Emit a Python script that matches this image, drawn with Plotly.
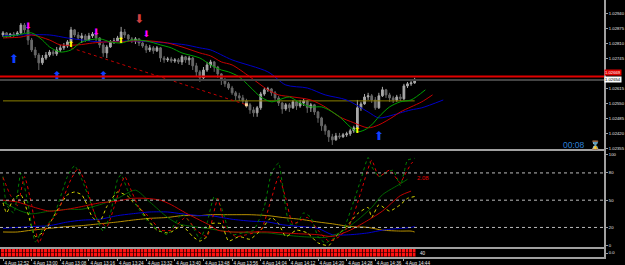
import plotly.graph_objects as go

# ---------------- data ----------------
bars = list(range(116))
opens = [1.02849,1.02858,1.02845,1.02853,1.02849,1.02858,1.02892,1.02871,1.02827,1.02784,1.02762,1.02728,1.02749,1.02762,1.02775,1.02767,1.02784,1.02793,1.02801,1.02819,
         1.02871,1.02849,1.02836,1.02845,1.02827,1.02845,1.02853,1.02836,1.02806,1.02771,1.02797,1.02819,1.02823,1.02836,1.02862,1.02849,1.02832,1.02823,1.02832,1.02814,
         1.02801,1.02784,1.02793,1.02780,1.02793,1.02749,1.02741,1.02745,1.02736,1.02741,1.02732,1.02754,1.02741,1.02749,1.02715,1.02689,1.02663,1.02697,1.02719,1.02732,
         1.02710,1.02680,1.02654,1.02637,1.02619,1.02598,1.02585,1.02576,1.02563,1.02546,1.02524,1.02511,1.02533,1.02593,1.02611,1.02615,1.02598,1.02576,1.02554,1.02528,
         1.02546,1.02533,1.02559,1.02541,1.02554,1.02563,1.02533,1.02546,1.02515,1.02489,1.02455,1.02433,1.02407,1.02394,1.02411,1.02407,1.02416,1.02420,1.02433,1.02446,
         1.02533,1.02550,1.02580,1.02585,1.02567,1.02533,1.02585,1.02611,1.02589,1.02576,1.02567,1.02580,1.02572,1.02628,1.02637,1.02641]
closes = [1.02858,1.02845,1.02853,1.02849,1.02858,1.02892,1.02871,1.02827,1.02784,1.02762,1.02728,1.02749,1.02762,1.02775,1.02767,1.02784,1.02793,1.02801,1.02819,1.02871,
          1.02849,1.02836,1.02845,1.02827,1.02845,1.02853,1.02836,1.02806,1.02771,1.02797,1.02819,1.02823,1.02836,1.02862,1.02849,1.02832,1.02823,1.02832,1.02814,1.02801,
          1.02784,1.02793,1.02780,1.02793,1.02749,1.02741,1.02745,1.02736,1.02741,1.02732,1.02754,1.02741,1.02749,1.02715,1.02689,1.02663,1.02697,1.02719,1.02732,1.02710,
          1.02680,1.02654,1.02637,1.02619,1.02598,1.02585,1.02576,1.02563,1.02546,1.02524,1.02511,1.02533,1.02593,1.02611,1.02615,1.02598,1.02576,1.02554,1.02528,1.02546,
          1.02533,1.02559,1.02541,1.02554,1.02563,1.02533,1.02546,1.02515,1.02489,1.02455,1.02433,1.02407,1.02394,1.02411,1.02407,1.02416,1.02420,1.02433,1.02446,1.02533,
          1.02550,1.02580,1.02585,1.02567,1.02533,1.02585,1.02611,1.02589,1.02576,1.02567,1.02580,1.02572,1.02628,1.02637,1.02641,1.02654]
highs = [1.02866,1.02862,1.02858,1.02862,1.02866,1.02901,1.02901,1.02879,1.02836,1.02797,1.02771,1.02762,1.02775,1.02784,1.02784,1.02797,1.02806,1.02814,1.02827,1.02884,
         1.02875,1.02862,1.02858,1.02853,1.02858,1.02862,1.02858,1.02840,1.02814,1.02806,1.02827,1.02836,1.02845,1.02884,1.02875,1.02853,1.02840,1.02840,1.02836,1.02823,
         1.02810,1.02806,1.02801,1.02801,1.02797,1.02758,1.02754,1.02754,1.02749,1.02749,1.02762,1.02758,1.02758,1.02754,1.02728,1.02697,1.02710,1.02732,1.02741,1.02736,
         1.02715,1.02684,1.02663,1.02645,1.02628,1.02606,1.02598,1.02589,1.02572,1.02554,1.02537,1.02541,1.02602,1.02619,1.02624,1.02619,1.02606,1.02585,1.02559,1.02554,
         1.02554,1.02567,1.02563,1.02567,1.02572,1.02567,1.02554,1.02550,1.02520,1.02494,1.02463,1.02437,1.02420,1.02424,1.02424,1.02424,1.02429,1.02442,1.02455,1.02567,
         1.02559,1.02593,1.02598,1.02593,1.02580,1.02598,1.02624,1.02615,1.02598,1.02585,1.02589,1.02593,1.02637,1.02645,1.02650,1.02663]
lows = [1.02840,1.02836,1.02840,1.02840,1.02845,1.02853,1.02858,1.02806,1.02775,1.02749,1.02697,1.02719,1.02741,1.02754,1.02758,1.02758,1.02775,1.02784,1.02793,1.02810,
        1.02840,1.02827,1.02814,1.02819,1.02823,1.02836,1.02819,1.02793,1.02754,1.02749,1.02793,1.02810,1.02819,1.02832,1.02836,1.02823,1.02814,1.02810,1.02801,1.02793,
        1.02771,1.02775,1.02767,1.02775,1.02732,1.02728,1.02732,1.02728,1.02728,1.02723,1.02719,1.02728,1.02719,1.02697,1.02671,1.02645,1.02654,1.02689,1.02706,1.02689,
        1.02663,1.02632,1.02624,1.02611,1.02589,1.02567,1.02563,1.02550,1.02533,1.02507,1.02494,1.02494,1.02524,1.02585,1.02602,1.02585,1.02567,1.02541,1.02507,1.02520,
        1.02515,1.02528,1.02524,1.02533,1.02541,1.02511,1.02515,1.02502,1.02468,1.02433,1.02416,1.02385,1.02372,1.02390,1.02398,1.02403,1.02407,1.02411,1.02424,1.02442,
        1.02520,1.02546,1.02567,1.02554,1.02524,1.02528,1.02580,1.02576,1.02559,1.02554,1.02559,1.02563,1.02567,1.02619,1.02628,1.02637]

# moving averages (displaced forward), read at bar positions
ma_fast_x = [0,4,8,11,13,16,19,22,27,30,33,36,40,44,47,50,55,58,61,63,66,69,72,75,77,80,83,86,89,91,94,97,99,101,103,105,108,111,114,118]
ma_fast_y = [1.02840,1.02849,1.02858,1.02827,1.02797,1.02775,1.02784,1.02819,1.02832,1.02819,1.02814,1.02827,1.02823,1.02806,1.02793,1.02771,1.02749,1.02719,1.02697,1.02689,
             1.02667,1.02624,1.02580,1.02559,1.02567,1.02580,1.02554,1.02537,1.02537,1.02524,1.02494,1.02450,1.02429,1.02437,1.02459,1.02494,1.02537,1.02559,1.02567,1.02611]
ma_mid_x = [0,5,8,13,16,21,25,29,33,36,41,46,50,55,58,61,64,69,74,77,81,86,90,94,98,102,105,109,111,114,117,120]
ma_mid_y = [1.02836,1.02840,1.02849,1.02827,1.02806,1.02806,1.02814,1.02819,1.02819,1.02823,1.02823,1.02814,1.02797,1.02771,1.02758,1.02732,1.02719,1.02667,1.02611,1.02589,
            1.02580,1.02567,1.02537,1.02494,1.02468,1.02446,1.02459,1.02494,1.02515,1.02537,1.02559,1.02589]
ma_slow_x = [0,5,13,18,27,36,46,51,55,58,64,74,79,85,90,96,102,105,109,111,114,117,123]
ma_slow_y = [1.02845,1.02849,1.02849,1.02836,1.02819,1.02823,1.02814,1.02806,1.02793,1.02784,1.02741,1.02689,1.02632,1.02619,1.02589,1.02567,1.02515,1.02489,1.02502,1.02511,
             1.02524,1.02533,1.02567]

ask_price = 1.02669
bid_price = 1.02654
level_price = 1.02563
trend_x = [19, 68]
trend_y = [1.02793, 1.02546]

arrow_blue_up_x = [3, 15, 28, 105]
arrow_blue_up_y = [1.02741, 1.02667, 1.02667, 1.02407]
arrow_mag_dn_x = [7, 26, 40]
arrow_mag_dn_y = [1.02884, 1.02858, 1.02849]
arrow_red_dn_x = [38]
arrow_red_dn_y = [1.02914]
arrow_yel_up_x = [19, 33, 99]
arrow_yel_up_y = [1.02806, 1.02823, 1.02433]

# oscillator window
osc_fast_x = [0,1,3,5,7,9,11,14,18,20,22,25,27,28,30,32,33,35,36,38,41,44,46,48,50,53,55,57,59,61,63,64,67,70,73,75,77,78,80,82,84,86,88,90,92,95,98,100,102,103,105,107,109,111,112,113,115]
osc_fast_v = [76,45,36,80,46,4,17,31,76,88,73,42,22,16,35,73,78,59,52,40,24,16,12,24,35,21,7,25,54,42,17,12,14,17,43,80,91,69,24,24,36,31,10,3,7,17,49,73,97,87,76,80,83,66,80,94,96]
osc_mid_x = [0,2,4,6,8,10,12,15,19,21,23,26,29,31,34,36,38,41,44,47,51,54,57,60,62,65,68,72,75,77,79,81,85,88,91,94,97,100,103,105,108,111,112,114,115]
osc_mid_v = [75,56,44,76,45,3,20,35,73,85,69,31,21,42,76,59,42,31,17,17,31,17,10,52,21,10,12,17,52,76,52,24,31,17,5,10,24,59,94,76,83,69,76,90,94]
osc_slow_x = [0,1,3,5,7,9,11,13,15,18,20,22,23,25,27,29,32,35,36,38,40,43,46,47,50,53,55,57,58,61,63,66,69,72,75,77,79,82,85,88,91,93,96,99,102,103,105,108,111,113,115]
osc_slow_v = [47,36,52,56,35,10,14,24,38,56,59,56,49,31,26,43,59,54,49,42,31,17,14,15,22,10,5,10,24,24,5,10,7,17,31,24,10,17,14,3,0,10,21,35,42,31,45,38,45,52,54]
sig_green_x = [0,5,8,13,18,22,27,32,37,41,46,49,53,57,60,64,69,74,78,83,88,90,94,99,103,106,111,113]
sig_green_v = [48,38,35,38,40,40,45,52,61,48,31,24,21,19,17,15,14,14,12,10,9,9,14,28,42,56,68,73]
sig_red_x = [0,4,8,13,18,22,27,32,36,40,44,47,51,55,58,60,64,69,74,78,83,88,92,97,102,106,111,114]
sig_red_v = [50,48,43,38,40,43,47,49,52,52,50,45,36,28,22,17,15,15,15,14,13,12,10,17,28,38,55,60]
sig_blue_x = [0,8,13,18,22,27,32,36,41,46,50,55,58,61,64,69,74,78,83,88,92,97,102,106,111,114,115]
sig_blue_v = [19,21,22,26,28,29,33,35,37,37,35,33,33,31,29,27,26,23,21,19,12,12,14,17,19,20,21]
sig_gold_x = [0,4,8,13,18,22,27,32,36,41,46,50,55,58,64,69,74,78,83,88,92,97,102,106,111,114,115]
sig_gold_v = [15,15,17,19,21,22,24,26,28,30,31,33,33,34,34,34,33,31,29,26,24,21,20,17,16,16,15]
osc_levels = [80, 50, 20]
osc_last_label = "2.08"

strip_level = 1.0

tick_bars = [0, 8, 16, 24, 32, 40, 48, 56, 64, 72, 80, 88, 96, 104, 112]
tick_labels = ["4 Aug 12:52", "4 Aug 13:00", "4 Aug 13:08", "4 Aug 13:16", "4 Aug 13:24",
               "4 Aug 13:32", "4 Aug 13:40", "4 Aug 13:48", "4 Aug 13:56", "4 Aug 14:04",
               "4 Aug 14:12", "4 Aug 14:20", "4 Aug 14:28", "4 Aug 14:36", "4 Aug 14:44"]
price_ticks = [1.02940, 1.02875, 1.02810, 1.02745, 1.02615, 1.02550, 1.02485, 1.02420, 1.02355]
osc_ticks = [100, 80, 50, 20, 0]

# ---------------- figure ----------------
FONT = "Liberation Sans"
AX = "#a0a0a0"
fig = go.Figure()

fig.add_trace(go.Candlestick(
    x=bars, open=opens, high=highs, low=lows, close=closes,
    increasing=dict(line=dict(color="#a8a8a8", width=1), fillcolor="#a8a8a8"),
    decreasing=dict(line=dict(color="#686868", width=1), fillcolor="#686868"),
    whiskerwidth=0, showlegend=False, hoverinfo="skip", xaxis="x", yaxis="y"))

# horizontal levels
fig.add_trace(go.Scatter(x=[bars[0], bars[-1]], y=[level_price, level_price], mode="lines",
                         line=dict(color="#8c8000", width=1), xaxis="x", yaxis="y", showlegend=False))
fig.add_shape(type="line", xref="x domain", yref="y", x0=0, x1=1, y0=bid_price, y1=bid_price,
              line=dict(color="#444444", width=2))
fig.add_shape(type="line", xref="x domain", yref="y", x0=0, x1=1, y0=ask_price, y1=ask_price,
              line=dict(color="#e00000", width=2))

# trend line
fig.add_trace(go.Scatter(x=trend_x, y=trend_y, mode="lines", line=dict(color="#c00000", width=1, dash="dot"),
                         xaxis="x", yaxis="y", showlegend=False))
fig.add_trace(go.Scatter(x=trend_x[1:], y=trend_y[1:], mode="markers", marker=dict(color="#ffd8a0", size=3, symbol="square"),
                         xaxis="x", yaxis="y", showlegend=False))

# moving averages
for xs, ys, col in [(ma_slow_x, ma_slow_y, "#0000c8"), (ma_mid_x, ma_mid_y, "#c80000"), (ma_fast_x, ma_fast_y, "#00a000")]:
    fig.add_trace(go.Scatter(x=xs, y=ys, mode="lines", line=dict(color=col, width=1, shape="spline", smoothing=0.8),
                             xaxis="x", yaxis="y", showlegend=False))

# arrows
for xs, ys, glyph, col, sz in [(arrow_blue_up_x, arrow_blue_up_y, "⬆", "#1040ff", 12),
                               (arrow_mag_dn_x, arrow_mag_dn_y, "⬇", "#ff00ff", 9),
                               (arrow_red_dn_x, arrow_red_dn_y, "⬇", "#d04040", 12),
                               (arrow_yel_up_x, arrow_yel_up_y, "⬆", "#ffff00", 8)]:
    fig.add_trace(go.Scatter(x=xs, y=ys, mode="text", text=[glyph] * len(xs),
                             textfont=dict(color=col, size=sz, family="DejaVu Sans"),
                             textposition="middle center", xaxis="x", yaxis="y", showlegend=False))

# oscillator
for lv in osc_levels:
    fig.add_shape(type="line", xref="x2 domain", yref="y2", x0=0, x1=1, y0=lv, y1=lv,
                  line=dict(color="#bcbcbc", width=1, dash="dot"))
for xs, vs, col in [(sig_gold_x, sig_gold_v, "#b89000"), (sig_blue_x, sig_blue_v, "#0000d0"),
                    (sig_green_x, sig_green_v, "#006400"), (sig_red_x, sig_red_v, "#c00000")]:
    fig.add_trace(go.Scatter(x=xs, y=vs, mode="lines", line=dict(color=col, width=1, shape="spline", smoothing=0.7),
                             xaxis="x2", yaxis="y2", showlegend=False))
for xs, vs, col in [(osc_slow_x, osc_slow_v, "#d8d800"), (osc_fast_x, osc_fast_v, "#008000"),
                    (osc_mid_x, osc_mid_v, "#e00000")]:
    fig.add_trace(go.Scatter(x=xs, y=vs, mode="lines", line=dict(color=col, width=1, dash="dot", shape="spline", smoothing=0.5),
                             xaxis="x2", yaxis="y2", showlegend=False))

# red strip
for _ in range(2):
    fig.add_trace(go.Bar(x=bars, y=[strip_level / 2] * len(bars), marker=dict(color="#ff1010", line=dict(color="#300000", width=0.6)),
                         xaxis="x3", yaxis="y3", showlegend=False, hoverinfo="skip"))

xr = [-0.84, 167.9]
common_x = dict(range=xr, showgrid=False, zeroline=False, showline=True, linecolor=AX, linewidth=2,
                fixedrange=True, automargin=False)
yfont = dict(size=4.2, color="#e8e8e8", family=FONT)
fig.update_layout(
    width=625, height=265, margin=dict(l=0, r=21, t=0, b=8, autoexpand=False),
    paper_bgcolor="black", plot_bgcolor="black", showlegend=False,
    barmode="stack", bargap=0,
    xaxis=dict(**common_x, anchor="y", showticklabels=False, ticks="", rangeslider=dict(visible=False)),
    xaxis2=dict(**common_x, anchor="y2", showticklabels=False, ticks=""),
    xaxis3=dict(**common_x, anchor="y3", tickvals=tick_bars, ticktext=tick_labels, ticks="outside",
                ticklen=2, tickcolor=AX, ticklabelposition="outside right", tickangle=0,
                tickfont=dict(size=4.6, color="#e8e8e8", family=FONT)),
    yaxis=dict(domain=[0.42, 1], range=[1.02354, 1.030007], side="right", tickvals=price_ticks,
               ticktext=[f"{v:.5f}" for v in price_ticks], ticks="outside", ticklen=2, tickcolor=AX,
               tickfont=yfont, showgrid=False, zeroline=False, showline=True, linecolor=AX, linewidth=2,
               automargin=False),
    yaxis2=dict(domain=[0.039, 0.412], range=[-1.5, 104], side="right", tickvals=osc_ticks,
                ticktext=[str(v) for v in osc_ticks], ticks="outside", ticklen=2, tickcolor=AX,
                tickfont=yfont, showgrid=False, zeroline=False, showline=True, linecolor=AX, linewidth=2,
                automargin=False),
    yaxis3=dict(domain=[0, 0.031], range=[0, 1], side="right", tickvals=[0.5], ticktext=["0.0"],
                ticks="outside", ticklen=2, tickcolor=AX, tickfont=yfont, showgrid=False, zeroline=False,
                showline=True, linecolor=AX, linewidth=2, automargin=False),
)

fig.add_annotation(x=1.0, xref="paper", xanchor="left", y=ask_price, yref="y", yanchor="bottom",
                   text=f"{ask_price:.5f}", showarrow=False, bgcolor="#e00000",
                   font=dict(size=4.2, color="white", family=FONT), borderpad=0)
fig.add_annotation(x=1.0, xref="paper", xanchor="left", y=bid_price, yref="y", yanchor="middle",
                   text=f"{bid_price:.5f}", showarrow=False, bgcolor="white",
                   font=dict(size=4.2, color="black", family=FONT), borderpad=0)
fig.add_annotation(x=0.972, xref="paper", xanchor="right", y=0.03, yref="y domain", yanchor="middle",
                   text="00:08", showarrow=False, font=dict(size=8.5, color="#2a7fd4", family=FONT))
fig.add_annotation(x=0.998, xref="paper", xanchor="right", y=0.03, yref="y domain", yanchor="middle",
                   text="⌛", showarrow=False, font=dict(size=8.5, color="#2a7fd4", family="DejaVu Sans"))
fig.add_annotation(x=osc_fast_x[-1], xref="x2", xanchor="left", y=osc_fast_v[-1] - 22, yref="y2",
                   text=osc_last_label, showarrow=False, font=dict(size=6, color="#e00000", family=FONT))
fig.add_annotation(x=bars[-1] + 1, xref="x3", xanchor="left", y=0.5, yref="y3",
                   text="40", showarrow=False, font=dict(size=4.6, color="#e8e8e8", family=FONT))

fig.write_html("out.html")
